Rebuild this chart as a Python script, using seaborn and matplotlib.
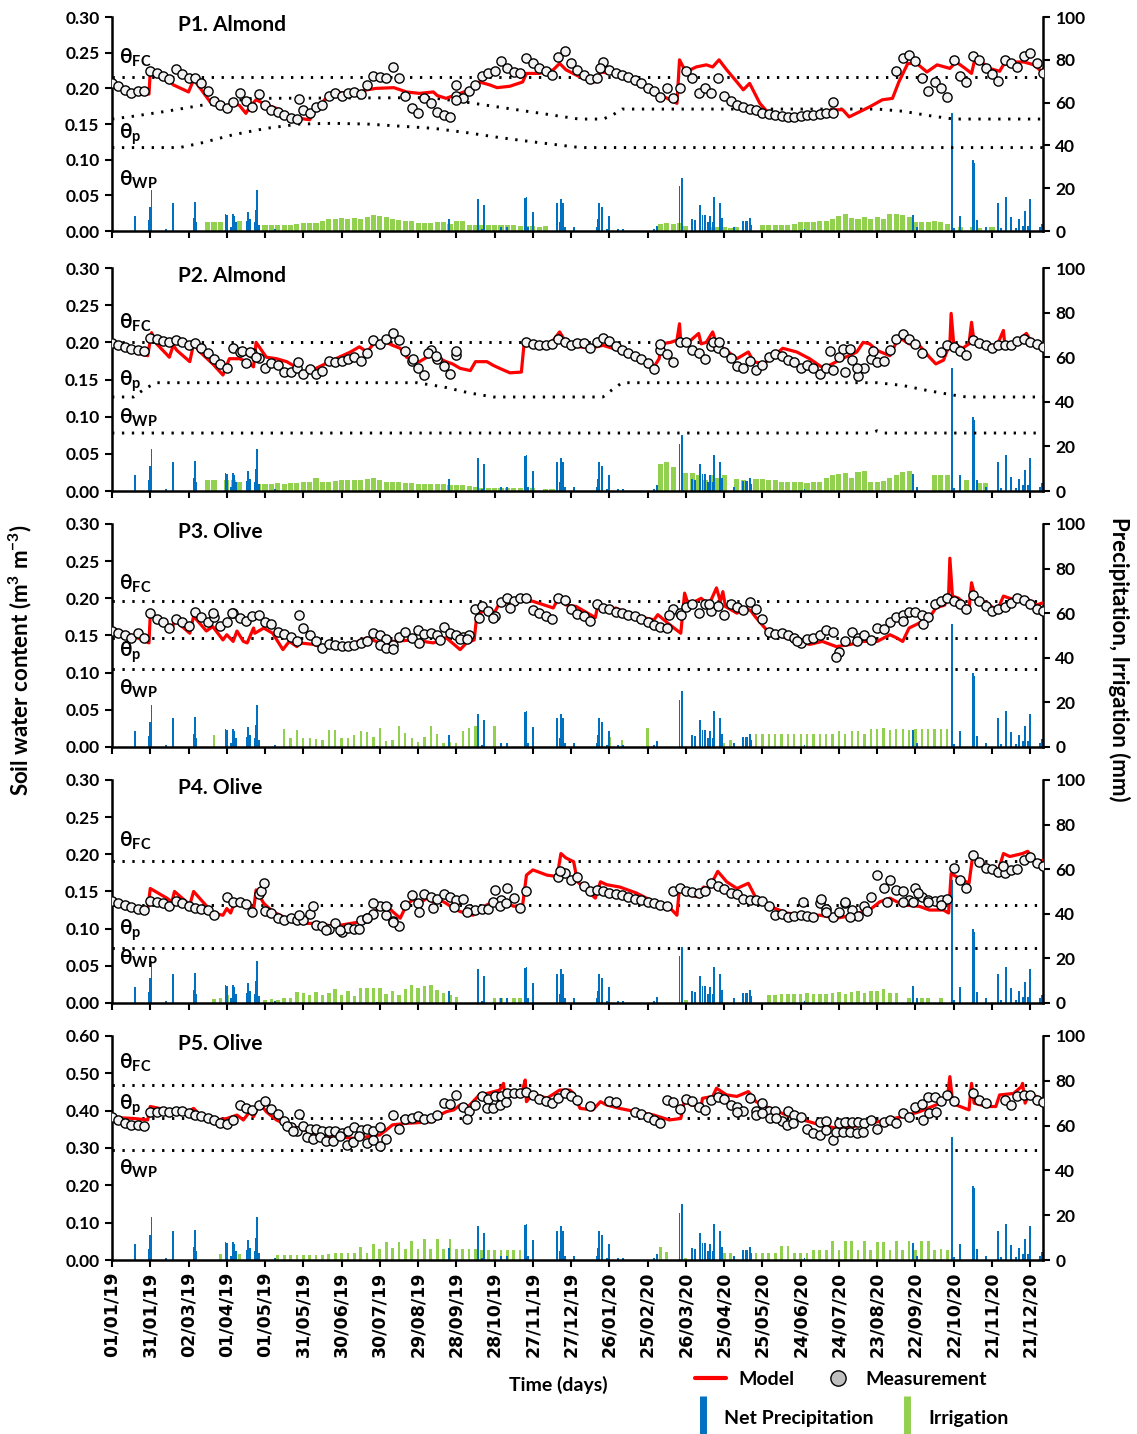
import numpy as np
import pandas as pd
import seaborn as sns
import matplotlib
matplotlib.use('Agg')
import matplotlib.pyplot as plt
from matplotlib.lines import Line2D

sns.set_theme(style='ticks')
plt.rcParams['font.family'] = ['Lato', 'DejaVu Sans']
plt.rcParams['font.weight'] = 'bold'
plt.rcParams['mathtext.fontset'] = 'custom'
plt.rcParams['mathtext.rm'] = 'Lato'
plt.rcParams['mathtext.bf'] = 'Lato:bold'
plt.rcParams['mathtext.it'] = 'Lato:italic'
for k in ['text.color', 'axes.labelcolor', 'xtick.color', 'ytick.color', 'axes.edgecolor']:
    plt.rcParams[k] = 'black'

RED = '#FF0000'
BLUE = '#0070C0'
GREEN = '#92D050'

# x axis: day number since 01/01/19
tick_days = list(range(0, 721, 30))
tick_labels = ['01/01/19', '31/01/19', '02/03/19', '01/04/19', '01/05/19', '31/05/19',
               '30/06/19', '30/07/19', '29/08/19', '28/09/19', '28/10/19', '27/11/19',
               '27/12/19', '26/01/20', '25/02/20', '26/03/20', '25/04/20', '25/05/20',
               '24/06/20', '24/07/20', '23/08/20', '22/09/20', '22/10/20', '21/11/20',
               '21/12/20']

# measurement grid: every 5 days
meas_days = np.arange(0, 731, 5)
nan = np.nan

# ---------------- net precipitation (day, mm) ----------------
precip = [(18, 7), (29, 5), (30, 11), (31, 19), (42, 1), (48, 13), (64, 6), (65, 13.5),
          (66, 4), (89, 8), (90, 7.5), (93, 2), (95, 8), (96, 7), (97, 4), (106, 4.5),
          (107, 9), (108, 5.5), (112, 4), (113, 10), (114, 19), (115, 3), (128, 0.8),
          (208, 0.5), (264, 5.5), (287, 15), (290, 1), (292, 12), (305, 2), (310, 2),
          (324, 15.5), (325, 16), (326, 2), (330, 9), (349, 13), (351, 4), (352, 15),
          (354, 13), (355, 2), (362, 2), (380, 2), (381, 5.5), (382, 13), (384, 11),
          (388, 1), (390, 7), (397, 1), (401, 1), (425, 1), (427, 2.5), (445, 21),
          (447, 25), (455, 5.5), (457, 5), (461, 12), (463, 7.5), (465, 7.5), (467, 4),
          (469, 7), (471, 4), (472, 16), (477, 13), (478, 6), (488, 2), (495, 4.5),
          (497, 4.5), (498, 4.5), (500, 6), (501, 3), (543, 0.8), (628, 7.5), (631, 2),
          (659, 55), (660, 1.5), (665, 7), (675, 33), (676, 32), (678, 5), (685, 2),
          (695, 13), (697, 1.5), (701, 16), (705, 6.5), (709, 1.5), (711, 5.5),
          (714, 2.5), (716, 9.5), (718, 2.5), (720, 15), (728, 2), (729, 3.5)]

# ---------------- irrigation, 5-day steps from a start day (mm) ----------------
irr_p1_2019 = [4, 4, 4, 0, 0, 4.5, 0, 0, 0, 2.8,
               2.8, 2.8, 2.8, 2.8, 3.2, 3.6, 3.6, 3.8, 4.5, 5.5,
               5.8, 6, 5.8, 6, 5.8, 6.5, 7.5, 7, 6.5, 5.5,
               5, 4.8, 4.5, 3.6, 3.8, 3.6, 4.2, 4.4, 3.5, 4.8,
               4.6, 3, 2.8, 2.8, 2.8, 2.8, 2.6, 2.8, 2.6, 2.4,
               2.2, 2.3, 2, 2.2]
irr_p1_2020 = [3.5, 3.8, 3.4, 3.6, 2.5, 0, 0, 0, 2, 1.8,
               2, 1.5, 2, 0, 0, 0, 2.8, 2.8, 2.8, 3,
               3, 3.2, 4, 4.2, 4.4, 4.5, 4.6, 5.5, 7, 8,
               6, 5.5, 6.5, 5.8, 6.5, 5.5, 7.8, 8, 7.6, 6.5,
               4.4, 4.4, 4.2, 4.6, 4.2, 3.5, 0, 2, 0, 2,
               1.5, 0, 2]
irr_p2_2019 = [4.8, 4.8, 0, 4.8, 4.8, 4, 0, 0, 3.3, 3.3,
               3.3, 3.5, 3.3, 3.5, 3.5, 4, 4, 6, 4.2, 4.2,
               4.6, 4.8, 4.8, 5, 5, 5.2, 6, 5, 4.2, 4,
               4, 3.8, 3.6, 3.3, 3.3, 3.3, 3.3, 3.3, 2.6, 2.5,
               2.5, 2.4, 1.6, 1.5, 1.5, 1.5, 1.5, 1.5, 1.5, 1.2,
               1, 1.2, 0, 1, 1]
irr_p2_2020 = [12, 13, 10.8, 0, 8, 8, 7, 5, 7, 6,
               7, 0, 5.5, 5, 0, 5.5, 5.5, 5, 5, 4.2,
               4, 4, 4, 3.8, 4, 4, 6, 7, 7.5, 8,
               6, 8.5, 9, 4, 4, 4.5, 6, 7, 8.5, 9,
               0, 0, 0, 7, 7, 7, 0, 0, 4.8, 0,
               3.7, 3.7]
irr_p3_2019 = [5.5, 0, 0, 0, 0, 0, 0, 0, 0, 0,
               0, 8, 4, 7.8, 4, 4, 3.5, 3, 7.5, 7.5,
               4, 4, 5.5, 7.2, 6.5, 4.5, 8.5, 2.5, 3.3, 9.5,
               6.2, 4, 2.3, 4.5, 9.3, 6, 1.8, 2.2, 1.6, 7.3,
               8.5, 9.3, 0, 0, 9.3]
irr_p3_2020 = [4.3, 0, 3, 0, 0, 0, 8.5, 0, 0, 0,
               0, 0, 0, 0, 0, 0, 0, 0, 1.8, 3.3,
               0, 0, 0.5, 6, 6, 6, 6, 6, 6, 6,
               6, 6, 6, 6, 6, 6, 7, 6, 7, 7.2,
               6, 8.2, 8.2, 8.5, 7.8, 8.2, 8.2, 7.8, 8.2, 8.2,
               8.2, 8.2, 8.2, 8.2]
irr_p4_2019 = [1.8, 2.4, 3.6, 0, 0, 0, 0, 0, 1.5, 1.8,
               1.5, 2, 2, 5, 4.5, 3.5, 5, 3.5, 4.5, 6.3,
               3.6, 5.5, 3, 6.6, 6.6, 6.6, 6.6, 4, 5.5, 3.5,
               6.2, 8, 6.5, 7.5, 8, 6, 4.5, 3.5, 2.5, 0,
               0, 0, 0, 0, 2.4, 2.4, 0, 2.4, 2.2]
irr_p4_2020 = [1.3, 0, 0, 0, 0, 0, 0, 0, 0, 0,
               0, 0, 0, 3.5, 3.5, 3.8, 3.8, 4, 4.2, 4.5,
               4, 3.8, 4.2, 4.5, 4.8, 4.2, 5, 5.5, 4.6, 5.2,
               5.5, 6.3, 4.6, 4.4, 0, 2, 0, 2.2, 2.3, 0,
               2.3]
irr_p5_2019 = [2.5, 2.5, 2.5, 2.5, 0, 0, 2.2, 0, 0, 2.2,
               2.2, 2.2, 2.2, 2.2, 2.2, 2.2, 2.2, 2.5, 3.3, 3.3,
               3.3, 3.3, 6, 3.3, 7, 4.8, 8.2, 5.2, 8, 5,
               8.5, 4.8, 9.2, 4.8, 9.2, 4.8, 9.2, 5, 4.8, 4.8,
               4.8, 4.6, 4.6, 4.6, 4.4, 4.4, 4.4, 4.4]
irr_p5_2020 = [6, 3.5, 0, 0, 1, 0, 0, 0, 0, 0,
               3.3, 3.3, 0, 0, 0, 3.3, 3.3, 3.3, 3.3, 6.4,
               6.4, 3.3, 3.3, 3.3, 4.5, 4.5, 4.5, 8.5, 4.5, 8.5,
               8.5, 4.5, 8.5, 4.5, 8.2, 8.2, 4.5, 8.5, 4.5, 8.5,
               4.5, 8.5, 8.5, 4.5, 5, 4.5]

# ---------------- measured soil water content (every 5 days) ----------------
meas_p1 = [0.207, 0.203, 0.198, 0.193, 0.196, 0.197, 0.225, 0.222, 0.218, 0.213,
           0.227, 0.220, 0.215, 0.214, 0.208, 0.196, 0.183, 0.176, 0.172, 0.181,
           0.194, 0.182, 0.174, 0.192, 0.176, 0.170, 0.167, 0.162, 0.158, 0.157,
           0.170, 0.166, 0.174, 0.177, 0.190, 0.193, 0.190, 0.193, 0.195, 0.192,
           0.205, 0.218, 0.216, 0.214, 0.230, 0.214, 0.190, 0.172, 0.166, 0.186,
           0.180, 0.167, 0.162, 0.160, 0.190, 0.186, 0.197, 0.205, 0.218, 0.221,
           0.225, 0.238, 0.228, 0.223, 0.221, 0.243, 0.235, 0.228, 0.224, 0.219,
           0.244, 0.252, 0.236, 0.226, 0.219, 0.213, 0.215, 0.237, 0.226, 0.222,
           0.219, 0.216, 0.212, 0.207, 0.201, 0.196, 0.188, 0.200, 0.186, 0.200,
           0.225, 0.215, 0.193, 0.200, 0.193, 0.215, 0.190, 0.182, 0.177, 0.174,
           0.171, 0.169, 0.166, 0.164, 0.163, 0.161, 0.160, 0.160, 0.161, 0.162,
           0.163, 0.164, 0.165, 0.166, nan, nan, nan, nan, nan, nan,
           nan, nan, nan, 0.225, 0.242, 0.247, 0.238, 0.215, 0.197, 0.209,
           0.200, 0.188, 0.240, 0.218, 0.209, 0.245, 0.240, 0.228, 0.220, 0.210,
           0.240, 0.236, 0.230, 0.245, 0.250, 0.235, 0.222]
meas_p2 = [0.199, 0.197, 0.194, 0.191, 0.190, 0.189, 0.206, 0.204, 0.202, 0.200,
           0.203, 0.200, 0.196, 0.199, 0.193, 0.185, 0.178, 0.171, 0.165, 0.192,
           0.187, 0.172, 0.185, 0.179, 0.165, 0.172, 0.170, 0.160, 0.160, 0.166,
           0.158, 0.164, 0.157, 0.162, 0.175, 0.173, 0.175, 0.178, 0.180, 0.175,
           0.185, 0.203, 0.198, 0.205, 0.213, 0.203, 0.189, 0.175, 0.166, 0.156,
           0.190, 0.178, 0.168, 0.157, 0.183, nan, nan, nan, nan, nan,
           nan, nan, nan, nan, nan, 0.200, 0.198, 0.197, 0.196, 0.198,
           0.205, 0.200, 0.196, 0.199, 0.199, 0.193, 0.200, 0.206, 0.202, 0.195,
           0.190, 0.186, 0.181, 0.177, 0.172, 0.164, 0.190, 0.184, 0.174, 0.201,
           0.200, 0.190, 0.185, 0.178, 0.195, 0.192, 0.187, 0.179, 0.168, 0.165,
           0.175, 0.163, 0.170, 0.180, 0.184, 0.181, 0.176, 0.174, 0.165, 0.169,
           0.165, 0.158, 0.165, 0.163, 0.180, 0.160, 0.176, 0.155, 0.165, 0.178,
           0.173, 0.175, 0.190, 0.205, 0.211, 0.205, 0.198, 0.186, nan, nan,
           0.187, 0.196, 0.194, 0.189, 0.183, 0.203, 0.199, 0.196, 0.192, 0.196,
           0.196, 0.197, 0.202, 0.205, 0.200, 0.198, 0.194]
meas_p3 = [0.156, 0.153, 0.151, 0.146, 0.153, 0.146, 0.180, 0.172, 0.168, 0.160,
           0.172, 0.168, 0.163, 0.182, 0.175, 0.168, 0.175, 0.163, 0.168, 0.180,
           0.173, 0.170, 0.176, 0.178, 0.168, 0.165, 0.155, 0.152, 0.148, 0.142,
           0.160, 0.150, 0.143, 0.133, 0.138, 0.137, 0.136, 0.136, 0.137, 0.140,
           0.142, 0.153, 0.150, 0.145, 0.137, 0.148, 0.155, 0.146, 0.157, 0.152,
           0.153, 0.150, 0.162, 0.153, 0.150, 0.148, 0.151, 0.185, 0.190, 0.183,
           0.176, 0.195, 0.200, 0.196, 0.201, 0.200, 0.184, 0.180, 0.176, 0.172,
           0.200, 0.198, 0.185, 0.179, 0.176, 0.170, 0.192, 0.187, 0.185, 0.182,
           0.180, 0.178, 0.176, 0.172, 0.168, 0.164, 0.162, 0.160, 0.186, 0.180,
           0.188, 0.193, 0.180, 0.192, 0.183, 0.189, 0.178, 0.193, 0.188, 0.184,
           0.195, 0.185, 0.172, 0.155, 0.152, 0.153, 0.151, 0.147, 0.140, 0.145,
           0.147, 0.150, 0.158, 0.155, 0.128, 0.142, 0.155, 0.147, 0.151, 0.144,
           0.160, 0.159, 0.168, 0.175, 0.178, 0.182, 0.181, 0.178, 0.175, 0.193,
           0.196, 0.200, 0.197, 0.192, 0.185, 0.205, 0.196, 0.190, 0.183, 0.185,
           0.188, 0.194, 0.200, 0.198, 0.193, 0.186, 0.183]
meas_p4 = [0.137, 0.135, 0.132, 0.129, 0.127, 0.125, 0.137, 0.136, 0.135, 0.131,
           0.137, 0.134, 0.130, 0.128, 0.127, 0.125, 0.118, nan, 0.142, 0.136,
           0.136, 0.133, 0.123, 0.147, 0.124, 0.121, 0.114, 0.111, 0.114, 0.112,
           0.111, 0.120, 0.105, 0.104, 0.099, 0.107, 0.096, 0.101, 0.100, 0.112,
           0.114, 0.120, 0.131, 0.118, 0.110, 0.103, 0.132, 0.145, 0.135, 0.147,
           0.143, 0.140, 0.147, 0.143, 0.138, 0.140, 0.127, 0.125, 0.126, 0.127,
           0.152, 0.139, 0.155, 0.141, 0.128, 0.150, nan, nan, nan, nan,
           0.170, 0.175, 0.165, 0.170, 0.157, 0.150, 0.152, 0.150, 0.148, 0.147,
           0.145, 0.142, 0.140, 0.138, 0.136, 0.134, 0.132, 0.130, 0.150, 0.154,
           0.150, 0.149, 0.148, 0.150, 0.162, 0.157, 0.153, 0.148, 0.146, 0.140,
           0.139, 0.138, 0.137, 0.130, 0.118, 0.119, 0.116, 0.117, 0.118, 0.117,
           0.116, 0.135, 0.127, 0.116, 0.123, 0.134, 0.125, 0.117, 0.130, 0.142,
           0.172, 0.155, 0.165, 0.152, 0.150, 0.138, 0.155, 0.143, 0.139, 0.137,
           0.138, 0.140, 0.182, 0.165, 0.155, 0.199, 0.190, 0.182, 0.180, 0.176,
           0.175, 0.179, 0.180, 0.192, 0.197, 0.188, 0.184]
meas_p5 = [0.382, 0.375, 0.368, 0.362, 0.361, 0.360, 0.397, 0.397, 0.398, 0.397,
           0.398, 0.398, 0.394, 0.389, 0.385, 0.380, 0.375, 0.368, 0.365, 0.376,
           0.415, 0.408, 0.402, 0.415, 0.425, 0.405, 0.390, 0.372, 0.355, 0.345,
           0.360, 0.350, 0.352, 0.345, 0.345, 0.345, 0.340, 0.345, 0.355, 0.348,
           0.352, 0.345, 0.355, 0.325, 0.388, 0.352, 0.377, 0.380, 0.386, 0.378,
           0.380, 0.388, 0.420, 0.418, 0.442, 0.410, 0.400, 0.416, 0.440, 0.432,
           0.438, 0.440, 0.446, 0.446, 0.446, 0.451, 0.441, 0.432, 0.425, 0.420,
           0.435, 0.446, 0.440, 0.429, nan, 0.413, nan, nan, 0.425, 0.424,
           nan, nan, 0.397, 0.390, 0.382, 0.375, 0.368, 0.428, 0.422, 0.405,
           0.432, 0.425, 0.411, 0.402, 0.428, 0.436, 0.432, 0.416, 0.410, 0.400,
           0.433, 0.400, 0.420, 0.398, 0.398, 0.373, 0.400, 0.388, 0.383, 0.352,
           0.339, 0.370, 0.371, 0.322, 0.366, 0.369, 0.370, 0.369, 0.366, 0.375,
           0.350, 0.370, 0.375, 0.367, 0.393, 0.384, 0.410, 0.419, 0.437, 0.437,
           0.425, 0.443, 0.425, nan, nan, 0.446, 0.429, 0.420, nan, nan,
           0.429, 0.415, 0.438, 0.441, 0.441, 0.429, 0.424]

# scattered second readings (day, value)
extra_p1 = [(270, 0.205), (270, 0.184), (147, 0.185), (565, 0.181), (383, 0.228)]
extra_p2 = [(102, 0.188), (108, 0.187), (113, 0.180), (146, 0.174), (236, 0.178),
            (248, 0.185), (254, 0.182), (270, 0.188), (430, 0.198), (471, 0.200),
            (476, 0.200), (563, 0.189), (573, 0.191), (579, 0.191), (584, 0.165),
            (597, 0.189)]
extra_p3 = [(79, 0.180), (94, 0.180), (147, 0.177), (210, 0.137), (215, 0.133),
            (220, 0.132), (241, 0.140), (257, 0.144), (273, 0.145), (278, 0.145),
            (288, 0.173), (299, 0.174), (312, 0.187), (437, 0.178), (446, 0.178),
            (468, 0.193), (537, 0.142), (568, 0.121), (584, 0.142), (620, 0.169),
            (636, 0.165)]
extra_p4 = [(117, 0.150), (119, 0.161), (147, 0.118), (158, 0.130), (168, 0.098),
            (179, 0.098), (194, 0.100), (200, 0.114), (205, 0.135), (215, 0.131),
            (220, 0.109), (241, 0.123), (252, 0.128), (268, 0.129), (278, 0.123),
            (299, 0.136), (304, 0.131), (309, 0.134), (351, 0.177), (542, 0.136),
            (556, 0.140), (560, 0.122), (575, 0.136), (579, 0.115), (592, 0.124),
            (608, 0.136), (620, 0.136), (628, 0.136), (632, 0.148), (640, 0.136),
            (650, 0.132), (699, 0.184)]
extra_p5 = [(137, 0.360), (142, 0.345), (147, 0.390), (153, 0.330), (158, 0.325),
            (163, 0.330), (168, 0.320), (173, 0.318), (179, 0.331), (184, 0.308),
            (189, 0.317), (194, 0.331), (200, 0.313), (205, 0.321), (210, 0.304),
            (278, 0.377), (294, 0.407), (299, 0.407), (304, 0.414), (309, 0.424),
            (490, 0.397), (505, 0.388), (510, 0.393), (516, 0.379), (521, 0.379),
            (529, 0.362), (534, 0.366), (555, 0.335), (560, 0.348), (568, 0.344),
            (573, 0.344), (579, 0.344), (584, 0.339), (589, 0.344), (636, 0.375),
            (641, 0.393), (646, 0.397)]

# ---------------- modelled soil water content (day, value) ----------------
model_p1 = [(0, .206), (15, .197), (29, .192), (30, .223), (45, .210), (48, .205),
            (60, .195), (64, .212), (66, .208), (77, .181), (87, .172), (95, .180),
            (100, .176), (105, .165), (108, .174), (113, .184), (121, .177), (129, .172),
            (137, .163), (147, .158), (155, .156), (160, .170), (171, .193), (180, .194),
            (190, .193), (200, .198), (207, .200), (221, .201), (231, .195), (241, .193),
            (252, .195), (255, .190), (262, .186), (268, .190), (273, .193), (283, .200),
            (288, .209), (296, .205), (302, .201), (312, .203), (322, .209), (325, .221),
            (335, .221), (346, .226), (351, .235), (356, .226), (367, .216), (375, .210),
            (379, .209), (383, .223), (391, .221), (411, .212), (430, .191), (443, .179),
            (445, .240), (450, .223), (458, .230), (466, .233), (471, .230), (476, .240),
            (482, .226), (490, .209), (495, .198), (500, .207), (508, .179), (516, .163),
            (529, .160), (542, .160), (565, .170), (573, .170), (578, .160), (586, .167),
            (594, .174), (604, .184), (612, .186), (617, .209), (624, .235), (631, .235),
            (639, .223), (647, .233), (657, .228), (662, .237), (669, .228), (674, .221),
            (677, .244), (688, .228), (696, .224), (699, .233), (707, .237), (715, .237),
            (723, .233), (730, .222)]
model_p2 = [(0, .200), (17, .187), (28, .182), (31, .213), (35, .198), (45, .180),
            (48, .196), (51, .189), (61, .174), (64, .198), (69, .187), (79, .171),
            (87, .156), (92, .178), (100, .178), (106, .174), (111, .167), (113, .200),
            (121, .180), (129, .178), (137, .174), (142, .169), (147, .162), (153, .158),
            (160, .165), (173, .176), (187, .187), (194, .194), (200, .187), (205, .198),
            (215, .200), (220, .196), (226, .192), (231, .180), (236, .176), (241, .174),
            (247, .180), (252, .187), (257, .178), (262, .174), (267, .171), (273, .165),
            (281, .162), (285, .174), (294, .174), (299, .169), (304, .165), (312, .159),
            (321, .160), (323, .196), (328, .200), (338, .194), (343, .196), (351, .214),
            (356, .200), (367, .194), (375, .192), (385, .196), (398, .189), (411, .180),
            (425, .167), (429, .178), (431, .198), (438, .200), (443, .203), (445, .225),
            (446, .200), (454, .203), (460, .212), (462, .198), (466, .200), (471, .214),
            (474, .198), (482, .189), (490, .178), (499, .187), (503, .174), (511, .171),
            (516, .178), (526, .192), (537, .187), (547, .178), (558, .165), (568, .174),
            (575, .180), (584, .187), (589, .200), (594, .198), (600, .189), (610, .182),
            (617, .207), (625, .198), (633, .196), (641, .180), (646, .171), (652, .176),
            (657, .198), (658, .239), (660, .198), (667, .192), (672, .198), (674, .227),
            (676, .200), (686, .196), (694, .196), (699, .216), (700, .198), (709, .200),
            (717, .212), (722, .198), (730, .192)]
model_p3 = [(0, .160), (17, .149), (29, .140), (30, .178), (43, .165), (47, .158),
            (49, .171), (61, .153), (64, .176), (74, .156), (79, .162), (87, .144),
            (90, .151), (95, .142), (98, .156), (103, .142), (106, .140), (111, .160),
            (112, .153), (119, .160), (126, .153), (134, .131), (139, .142), (145, .135),
            (147, .140), (158, .138), (163, .135), (173, .138), (189, .139), (200, .147),
            (210, .140), (220, .142), (236, .144), (252, .140), (262, .147), (273, .131),
            (278, .140), (284, .144), (286, .176), (291, .183), (299, .178), (304, .194),
            (312, .194), (320, .196), (325, .198), (330, .196), (346, .187), (350, .200),
            (356, .191), (364, .189), (379, .174), (381, .191), (389, .183), (395, .187),
            (406, .178), (425, .171), (428, .178), (437, .165), (446, .153), (449, .207),
            (452, .191), (462, .200), (468, .191), (474, .214), (477, .196), (479, .209),
            (481, .189), (490, .180), (497, .187), (501, .183), (505, .174), (513, .158),
            (521, .151), (537, .142), (547, .138), (557, .142), (568, .135), (579, .138),
            (589, .142), (600, .142), (610, .151), (615, .147), (620, .142), (625, .160),
            (631, .165), (641, .174), (646, .187), (653, .191), (656, .205), (657, .254),
            (659, .203), (664, .200), (672, .185), (674, .221), (677, .200), (686, .194),
            (694, .183), (699, .203), (704, .200), (709, .198), (717, .200), (725, .191),
            (730, .194)]
model_p4 = [(0, .137), (17, .128), (28, .125), (30, .154), (43, .141), (47, .136),
            (49, .150), (61, .132), (64, .150), (79, .121), (87, .118), (90, .127),
            (93, .121), (95, .130), (100, .134), (106, .130), (111, .125), (113, .152),
            (119, .134), (126, .123), (132, .118), (142, .109), (153, .107), (163, .107),
            (173, .103), (184, .106), (194, .109), (205, .123), (210, .127), (215, .132),
            (220, .123), (226, .114), (231, .132), (236, .139), (241, .134), (247, .141),
            (252, .136), (257, .139), (262, .134), (268, .127), (273, .123), (283, .118),
            (288, .125), (294, .132), (304, .139), (315, .130), (322, .132), (325, .172),
            (330, .179), (341, .172), (349, .170), (352, .201), (356, .195), (362, .190),
            (365, .163), (372, .152), (379, .141), (383, .163), (388, .159), (398, .156),
            (411, .148), (425, .136), (438, .127), (443, .118), (445, .156), (450, .148),
            (458, .143), (464, .156), (468, .154), (475, .177), (482, .163), (490, .154),
            (499, .161), (505, .141), (516, .130), (529, .121), (542, .118), (555, .118),
            (568, .114), (581, .118), (589, .123), (594, .125), (602, .136), (610, .141),
            (620, .132), (633, .130), (641, .125), (652, .125), (656, .121), (658, .174),
            (664, .168), (672, .161), (675, .199), (686, .183), (694, .172), (699, .201),
            (704, .197), (709, .199), (714, .201), (718, .204), (725, .190), (730, .192)]
model_p5 = [(0, .382), (17, .379), (28, .375), (30, .411), (43, .402), (58, .393),
            (64, .406), (69, .388), (82, .375), (90, .379), (98, .388), (103, .375),
            (108, .397), (111, .384), (116, .420), (121, .397), (129, .375), (137, .362),
            (147, .353), (158, .339), (168, .330), (179, .329), (189, .326), (200, .330),
            (210, .335), (215, .348), (220, .362), (231, .366), (241, .368), (252, .371),
            (257, .388), (262, .397), (268, .402), (273, .415), (278, .406), (283, .424),
            (288, .442), (294, .446), (304, .455), (307, .473), (308, .442), (315, .446),
            (322, .455), (324, .482), (325, .424), (330, .446), (341, .433), (351, .455),
            (359, .455), (362, .446), (367, .406), (377, .402), (383, .424), (388, .415),
            (398, .406), (411, .397), (425, .388), (437, .375), (446, .379), (449, .429),
            (454, .415), (462, .411), (463, .433), (471, .438), (474, .460), (482, .442),
            (490, .438), (499, .451), (505, .424), (516, .406), (529, .388), (542, .375),
            (555, .362), (568, .353), (581, .357), (594, .366), (607, .375), (620, .384),
            (633, .397), (646, .415), (655, .433), (657, .491), (659, .429), (662, .415),
            (672, .402), (674, .473), (676, .420), (686, .411), (693, .411), (696, .442),
            (707, .446), (713, .464), (714, .473), (716, .420), (719, .442), (725, .438),
            (730, .424)]

# ---------------- threshold lines (day, value) ----------------
fc_p1 = [(0, 0.216), (730, 0.216)]
p_p1 = [(0, 0.157), (17, 0.161), (43, 0.168), (69, 0.176), (86, 0.180), (110, 0.186),
        (250, 0.187), (280, 0.180), (310, 0.172), (340, 0.164), (366, 0.157), (385, 0.157),
        (392, 0.162), (400, 0.171), (600, 0.171), (620, 0.168), (640, 0.162),
        (660, 0.157), (730, 0.157)]
wp_p1 = [(0, 0.117), (53, 0.117), (69, 0.123), (95, 0.135), (121, 0.144), (147, 0.150),
         (173, 0.151), (200, 0.150), (226, 0.147), (252, 0.144), (278, 0.138),
         (304, 0.131), (330, 0.125), (367, 0.117), (730, 0.117)]
fc_p2 = [(0, 0.200), (730, 0.200)]
p_p2 = [(0, 0.1265), (17, 0.1265), (26, 0.138), (35, 0.1457), (239, 0.1457), (260, 0.140),
        (280, 0.132), (299, 0.1265), (385, 0.1265), (392, 0.136), (400, 0.1457),
        (600, 0.1457), (620, 0.142), (640, 0.135), (660, 0.129), (670, 0.1265),
        (730, 0.1265)]
wp_p2 = [(0, 0.078), (595, 0.078), (600, 0.081), (605, 0.078), (730, 0.078)]
fc_p3 = [(0, 0.197), (730, 0.197)]
p_p3 = [(0, 0.1466), (730, 0.1466)]
wp_p3 = [(0, 0.105), (730, 0.105)]
fc_p4 = [(0, 0.191), (730, 0.191)]
p_p4 = [(0, 0.132), (730, 0.132)]
wp_p4 = [(0, 0.0736), (730, 0.0736)]
fc_p5 = [(0, 0.469), (730, 0.469)]
p_p5 = [(0, 0.381), (730, 0.381)]
wp_p5 = [(0, 0.295), (730, 0.295)]

# label heights (baseline, data units) for theta_FC, theta_p, theta_WP
lab_p1 = [0.235, 0.130, 0.063]
lab_p2 = [0.218, 0.141, 0.090]
lab_p3 = [0.212, 0.121, 0.070]
lab_p4 = [0.210, 0.092, 0.051]
lab_p5 = [0.511, 0.402, 0.228]

panels = [
    dict(title='P1. Almond', ymax=0.30, ystep=0.05, meas=meas_p1, extra=extra_p1,
         model=model_p1, irr=[(75, irr_p1_2019), (430, irr_p1_2020)], irr_w=4.0,
         refs=[fc_p1, p_p1, wp_p1], labs=lab_p1,
         pos=[0.0985, 0.8389, 0.8188, 0.1492]),
    dict(title='P2. Almond', ymax=0.30, ystep=0.05, meas=meas_p2, extra=extra_p2,
         model=model_p2, irr=[(75, irr_p2_2019), (430, irr_p2_2020)], irr_w=4.0,
         refs=[fc_p2, p_p2, wp_p2], labs=lab_p2,
         pos=[0.0985, 0.6576, 0.8188, 0.1555]),
    dict(title='P3. Olive', ymax=0.30, ystep=0.05, meas=meas_p3, extra=extra_p3,
         model=model_p3, irr=[(80, irr_p3_2019), (390, irr_p3_2020)], irr_w=1.8,
         refs=[fc_p3, p_p3, wp_p3], labs=lab_p3,
         pos=[0.0985, 0.4791, 0.8188, 0.1555]),
    dict(title='P4. Olive', ymax=0.30, ystep=0.05, meas=meas_p4, extra=extra_p4,
         model=model_p4, irr=[(80, irr_p4_2019), (450, irr_p4_2020)], irr_w=2.8,
         refs=[fc_p4, p_p4, wp_p4], labs=lab_p4,
         pos=[0.0985, 0.3006, 0.8188, 0.1555]),
    dict(title='P5. Olive', ymax=0.60, ystep=0.10, meas=meas_p5, extra=extra_p5,
         model=model_p5, irr=[(85, irr_p5_2019), (430, irr_p5_2020)], irr_w=2.2,
         refs=[fc_p5, p_p5, wp_p5], labs=lab_p5,
         pos=[0.0985, 0.1213, 0.8188, 0.1563]),
]

theta_labels = ['θ$_{\\mathbf{FC}}$', 'θ$_{\\mathbf{p}}$', 'θ$_{\\mathbf{WP}}$']
precip_df = pd.DataFrame(precip, columns=['day', 'mm'])

fig = plt.figure(figsize=(11.37, 14.34), dpi=100)

for i, pnl in enumerate(panels):
    assert len(pnl['meas']) == len(meas_days)
    ax = fig.add_axes(pnl['pos'])
    ax2 = ax.twinx()

    # bars on the right axis
    for start, vals in pnl['irr']:
        d = start + 5 * np.arange(len(vals))
        ax2.bar(d, vals, width=pnl['irr_w'], color=GREEN, linewidth=0)
    ax2.bar(precip_df['day'], precip_df['mm'], width=1.5, color=BLUE, linewidth=0)
    ax2.set_ylim(0, 100)
    ax2.set_yticks(range(0, 101, 20))

    # threshold lines
    for ref in pnl['refs']:
        rd = pd.DataFrame(ref, columns=['day', 'v'])
        ax.plot(rd['day'], rd['v'], color='black', lw=2.1, linestyle=(0, (0.8, 2.6)))

    md = pd.DataFrame(pnl['model'], columns=['day', 'swc'])
    sns.lineplot(data=md, x='day', y='swc', ax=ax, color=RED, lw=2.3,
                 estimator=None, sort=False, zorder=2)

    ms = pd.DataFrame({'day': meas_days, 'swc': pnl['meas']}).dropna()
    ex = pd.DataFrame(pnl['extra'], columns=['day', 'swc'])
    allm = pd.concat([ms, ex])
    sns.scatterplot(data=allm, x='day', y='swc', ax=ax, s=44, color='#F2F2F2',
                    edgecolor='black', linewidth=1.0, zorder=3, legend=False)

    ax.set_zorder(ax2.get_zorder() + 1)
    ax.patch.set_visible(False)

    ax.set_xlim(0, 730)
    ax.set_ylim(0, pnl['ymax'])
    ax.set_yticks(np.round(np.arange(0, pnl['ymax'] + 1e-9, pnl['ystep']), 2))
    ax.yaxis.set_major_formatter(matplotlib.ticker.FormatStrFormatter('%.2f'))
    ax.set_xticks(tick_days)
    ax.set_xlabel('')
    ax.set_ylabel('')

    for s in ['top', 'right']:
        ax.spines[s].set_visible(False)
    for s in ['top', 'left', 'bottom']:
        ax2.spines[s].set_visible(False)
    for s in ['left', 'bottom']:
        ax.spines[s].set_linewidth(1.8)
    ax2.spines['right'].set_linewidth(1.8)

    ax.tick_params(axis='y', direction='out', length=5, width=1.5, labelsize=12.5, pad=4)
    ax.tick_params(axis='x', direction='out', length=5, width=1.5)
    ax2.tick_params(axis='y', direction='out', length=5, width=1.5, labelsize=12.5, pad=4)
    for t in ax.get_yticklabels() + ax2.get_yticklabels():
        t.set_fontweight('bold')

    if i == len(panels) - 1:
        ax.set_xticklabels(tick_labels, rotation=90, fontfamily='DejaVu Sans',
                           fontweight='bold', fontsize=12.5)
    else:
        ax.tick_params(axis='x', labelbottom=False)

    ax.text(0.071, 0.962, pnl['title'], transform=ax.transAxes, fontsize=15,
            fontweight='bold', va='center', ha='left')
    for lab, yv in zip(theta_labels, pnl['labs']):
        ax.text(0.008, yv, lab, transform=ax.get_yaxis_transform(), fontsize=15,
                va='baseline', ha='left')

fig.text(0.018, 0.54, 'Soil water content (m$^{\\mathbf{3}}$ m$^{\\mathbf{-3}}$)',
         rotation=90, va='center', ha='center', fontsize=16, fontweight='bold')
fig.text(0.984, 0.54, 'Precipitation, Irrigation (mm)', rotation=-90, va='center',
         ha='center', fontsize=16, fontweight='bold')
fig.text(0.491, 0.034, 'Time (days)', va='center', ha='center', fontsize=14,
         fontweight='bold')

h_model = Line2D([], [], color=RED, lw=3)
h_meas = Line2D([], [], marker='o', ls='none', markerfacecolor='#BFBFBF',
                markeredgecolor='black', markersize=11)
h_prec = Line2D([], [], marker='|', ls='none', color=BLUE, markersize=30,
                markeredgewidth=5)
h_irr = Line2D([], [], marker='|', ls='none', color=GREEN, markersize=30,
               markeredgewidth=5)
leg_font = {'weight': 'bold', 'size': 14}
fig.legend([h_model, h_meas], ['Model', 'Measurement'], ncol=2, loc='upper left',
           bbox_to_anchor=(0.596, 0.056), frameon=False, prop=leg_font,
           handlelength=1.6, columnspacing=1.45, handletextpad=0.6)
fig.legend([h_prec, h_irr], ['Net Precipitation', 'Irrigation'], ncol=2,
           loc='upper left', bbox_to_anchor=(0.594, 0.029), frameon=False,
           prop=leg_font, handlelength=1.0, columnspacing=1.2, handletextpad=0.6)

fig.savefig('out.png', dpi=100)
